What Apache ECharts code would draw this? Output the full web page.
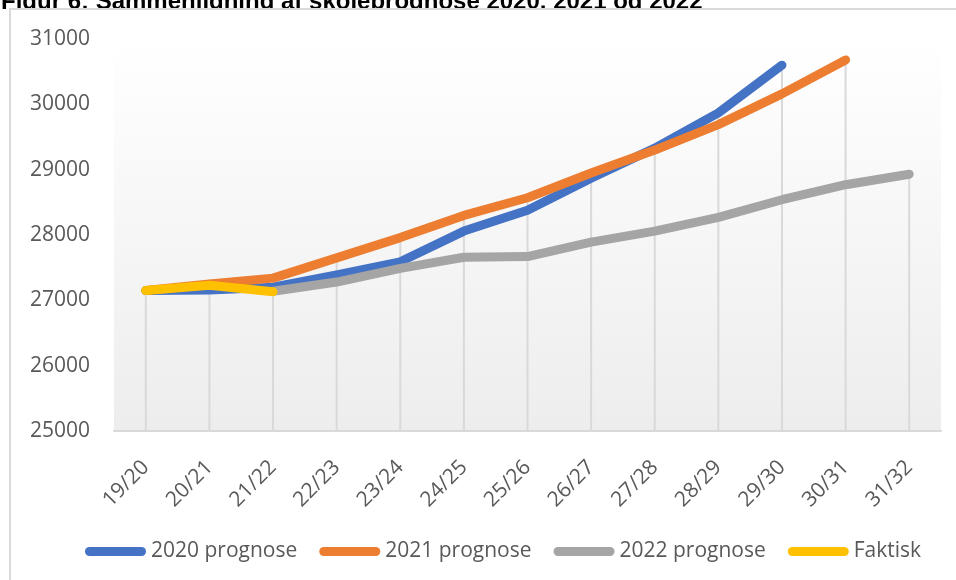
<!DOCTYPE html>
<html>
<head>
<meta charset="utf-8">
<script src="https://cdn.jsdelivr.net/npm/echarts@6/dist/echarts.min.js"></script>
<style>
  html, body { margin: 0; padding: 0; background: #fff; }
  #chart { width: 956px; height: 580px; }
</style>
</head>
<body>
<div id="chart"></div>
<script>
// skoleår (kategorier)
var years = ['19/20', '20/21', '21/22', '22/23', '23/24', '24/25', '25/26',
             '26/27', '27/28', '28/29', '29/30', '30/31', '31/32'];

// prognoser
var prog2020 = [27150, 27160, 27200, 27390, 27590, 28060, 28380, 28870, 29330, 29870, 30600, null, null];
var prog2021 = [27150, 27250, 27340, 27650, 27960, 28300, 28570, 28950, 29300, 29690, 30160, 30680, null];
var prog2022 = [null, null, 27140, 27280, 27490, 27660, 27670, 27890, 28060, 28270, 28540, 28770, 28930];
var faktisk  = [27150, 27230, 27130, null, null, null, null, null, null, null, null, null, null];

var yTicks = [25000, 26000, 27000, 28000, 29000, 30000, 31000];

var farver = ['#4472C4', '#ED7D31', '#A5A5A5', '#FFC000'];
var navne = ['2020 prognose', '2021 prognose', '2022 prognose', 'Faktisk'];
var rækker = [prog2020, prog2021, prog2022, faktisk];

// lodrette hjælpelinjer op til højeste værdi i hver kategori
var dropData = years.map(function (y, i) {
    var m = null;
    rækker.forEach(function (r) {
        if (r[i] != null && (m == null || r[i] > m)) m = r[i];
    });
    return [i, m];
});

var chart = echarts.init(document.getElementById('chart'));

var font = 'Open Sans';

var lineSeries = rækker.map(function (r, k) {
    return {
        name: navne[k],
        type: 'line',
        data: r,
        showSymbol: false,
        symbol: 'none',
        connectNulls: false,
        z: 3 + k,
        lineStyle: { width: 9, color: farver[k], cap: 'round', join: 'round' },
        itemStyle: { color: farver[k] },
        emphasis: { disabled: true }
    };
});

var option = {
    animation: false,
    graphic: [
        {
            type: 'text',
            left: 1,
            top: -10,
            z: -10,
            style: {
                text: 'Figur 6: Sammenligning af skoleprognose 2020, 2021 og 2022',
                font: 'bold 24px "Liberation Sans", Arial, sans-serif',
                fill: '#000'
            }
        },
        {
            type: 'rect',
            z: -5,
            shape: { x: 10, y: 9, width: 960, height: 600 },
            style: { fill: '#fff', stroke: '#d9d9d9', lineWidth: 2 }
        }
    ],
    grid: {
        left: 114,
        right: 15,
        top: 39,
        bottom: 149,
        show: true,
        borderWidth: 0,
        backgroundColor: new echarts.graphic.LinearGradient(0, 0, 0, 1, [
            { offset: 0, color: '#ffffff' },
            { offset: 1, color: '#ededed' }
        ])
    },
    legend: {
        data: navne,
        left: 80,
        top: 536,
        icon: 'path://M4.5,0 H56.5 A4.5,4.5 0 0 1 56.5,9 H4.5 A4.5,4.5 0 0 1 4.5,0 Z',
        itemWidth: 61,
        itemHeight: 9,
        itemGap: 22,
        textStyle: { fontFamily: font, fontSize: 21, color: '#595959' }
    },
    xAxis: {
        type: 'category',
        data: years,
        boundaryGap: true,
        axisLine: { lineStyle: { color: '#d9d9d9', width: 2 } },
        axisTick: { show: false },
        splitLine: { show: false },
        axisLabel: {
            rotate: 45,
            margin: 33,
            fontFamily: font,
            fontSize: 21,
            color: '#595959'
        }
    },
    yAxis: {
        type: 'value',
        min: yTicks[0],
        max: yTicks[yTicks.length - 1],
        interval: 1000,
        axisLine: { show: false },
        axisTick: { show: false },
        splitLine: { show: false },
        axisLabel: {
            margin: 24,
            fontFamily: font,
            fontSize: 21,
            color: '#595959',
            formatter: function (v) { return String(v); }
        }
    },
    series: [{
        name: 'drop',
        type: 'custom',
        z: 2,
        silent: true,
        data: dropData,
        renderItem: function (params, api) {
            var top = api.coord([api.value(0), api.value(1)]);
            var base = api.coord([api.value(0), yTicks[0]]);
            return {
                type: 'line',
                shape: { x1: top[0], y1: top[1], x2: base[0], y2: base[1] },
                style: { stroke: '#d9d9d9', lineWidth: 2 }
            };
        }
    }].concat(lineSeries)
};

chart.setOption(option);
</script>
</body>
</html>
